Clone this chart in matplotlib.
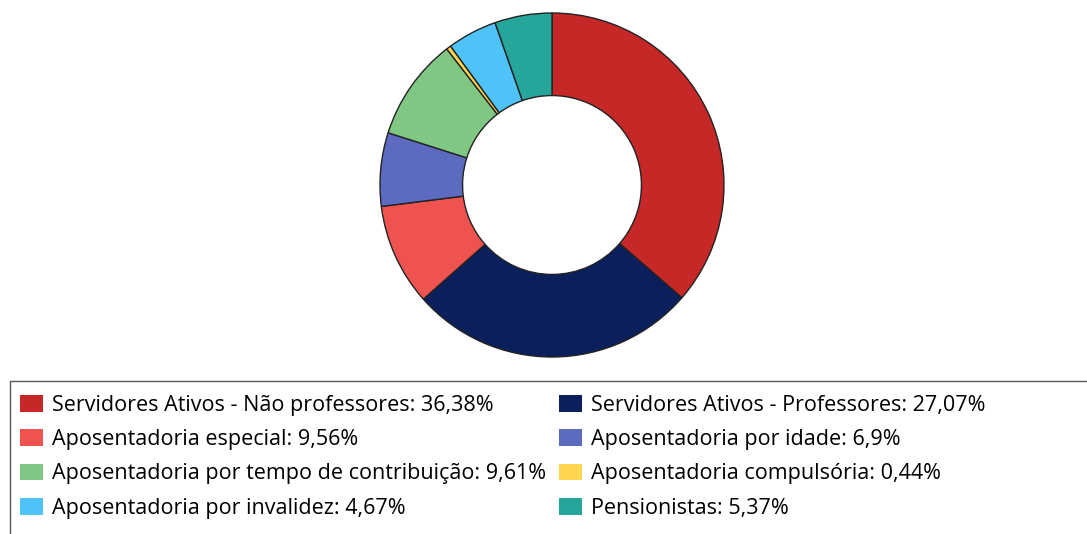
import matplotlib
matplotlib.use("Agg")
import matplotlib.pyplot as plt
from matplotlib.patches import Patch, Rectangle

plt.rcParams['font.family'] = ['Open Sans', 'DejaVu Sans']

labels = [
    "Servidores Ativos - Não professores",
    "Servidores Ativos - Professores",
    "Aposentadoria especial",
    "Aposentadoria por idade",
    "Aposentadoria por tempo de contribuição",
    "Aposentadoria compulsória",
    "Aposentadoria por invalidez",
    "Pensionistas",
]
values = [36.38, 27.07, 9.56, 6.9, 9.61, 0.44, 4.67, 5.37]
value_text = ["36,38", "27,07", "9,56", "6,9", "9,61", "0,44", "4,67", "5,37"]
colors = ["#C62828", "#0A1F5C", "#EF5350", "#5C6BC0",
          "#81C784", "#FFD54F", "#4FC3F7", "#26A69A"]

W, H = 1087, 534
fig = plt.figure(figsize=(W / 100, H / 100), dpi=100)

# donut, centre (552,185), outer radius 172 px
cx, cy, r = 552, 185, 172
ax = fig.add_axes([(cx - r) / W, (H - cy - r) / H, 2 * r / W, 2 * r / H])
ax.pie(values, colors=colors, startangle=90, counterclock=False, radius=1,
       wedgeprops=dict(width=0.48, edgecolor="#222222", linewidth=1))
ax.set_xlim(-1, 1)
ax.set_ylim(-1, 1)
ax.set_aspect("equal")
ax.axis("off")

# legend frame runs off the bottom/right of the picture
fig.patches.append(Rectangle((10 / W, -0.05), 1.2, (H - 381) / H + 0.05,
                             transform=fig.transFigure, facecolor="white",
                             edgecolor="#555555", linewidth=1, zorder=0))

handles = [Patch(facecolor=c) for c in colors]
texts = [f"{l}: {v}%" for l, v in zip(labels, value_text)]
# legend fills column by column; reorder so it reads row by row
order = [0, 2, 4, 6, 1, 3, 5, 7]
fig.legend([handles[i] for i in order], [texts[i] for i in order],
           ncol=2, loc="upper left",
           bbox_to_anchor=(9 / W, (H - 384) / H), frameon=False,
           fontsize=15.5, borderpad=0, handlelength=1.07, handleheight=0.8,
           handletextpad=0.42, labelspacing=0.62, columnspacing=0.6)

fig.savefig("out.png", dpi=100, facecolor="white")
